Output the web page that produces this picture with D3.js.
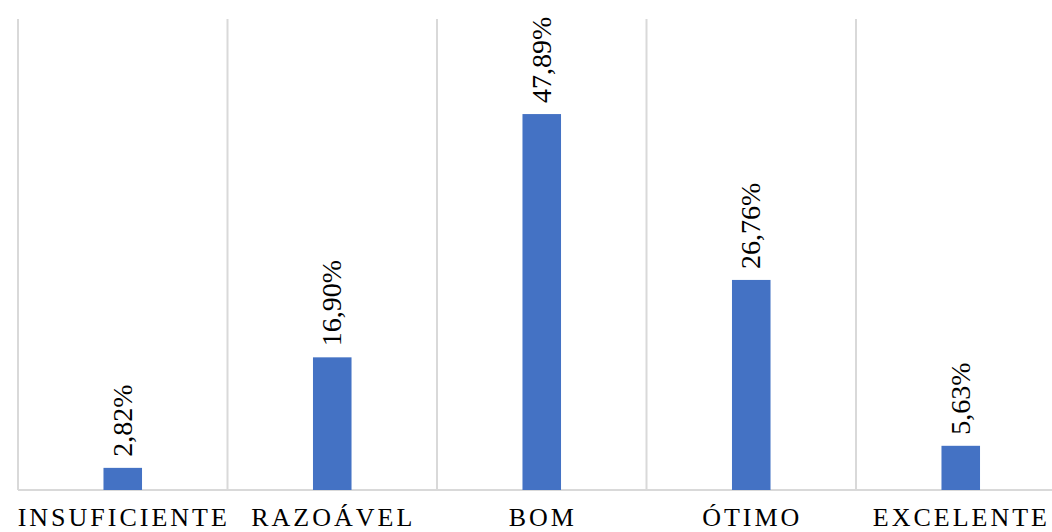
<!DOCTYPE html>
<html>
<head>
<meta charset="utf-8">
<script src="https://cdn.jsdelivr.net/npm/d3@7"></script>
<style>
  body { margin: 0; background: #fff; }
  svg { display: block; }
</style>
</head>
<body>
<div id="chart"></div>
<script>
'use strict'

const categories = ['INSUFICIENTE', 'RAZOÁVEL', 'BOM', 'ÓTIMO', 'EXCELENTE']
const values = [2.82, 16.90, 47.89, 26.76, 5.63]
const valueLabels = ['2,82%', '16,90%', '47,89%', '26,76%', '5,63%']

const width = 1052
const height = 532

const svg = d3.select('#chart')
  .append('svg')
  .attr('width', width)
  .attr('height', height)

const x = d3.scaleBand()
  .domain(categories)
  .range([18, 1065.5])

const y = d3.scaleLinear()
  .domain([0, 60])
  .range([490, 19])

const barW = x.bandwidth() * 0.184

// vertical separators between categories
const seps = categories.map(c => x(c)).concat([x.range()[1]])
svg.selectAll('line.sep')
  .data(seps)
  .enter()
  .append('line')
  .attr('class', 'sep')
  .attr('x1', d => d)
  .attr('x2', d => d)
  .attr('y1', y(60))
  .attr('y2', y(0))
  .attr('stroke', '#d9d9d9')
  .attr('stroke-width', 2)

// baseline
svg.append('line')
  .attr('x1', x.range()[0])
  .attr('x2', x.range()[1])
  .attr('y1', y(0))
  .attr('y2', y(0))
  .attr('stroke', '#d9d9d9')
  .attr('stroke-width', 2)

svg.selectAll('rect.bar')
  .data(values)
  .enter()
  .append('rect')
  .attr('class', 'bar')
  .attr('x', (d, i) => x(categories[i]) + x.bandwidth() / 2 - barW / 2)
  .attr('y', d => y(d))
  .attr('width', barW)
  .attr('height', d => y(0) - y(d))
  .attr('fill', '#4472c4')

// value labels, rotated
svg.selectAll('text.val')
  .data(values)
  .enter()
  .append('text')
  .attr('class', 'val')
  .attr('transform', (d, i) => 'translate(' + (x(categories[i]) + x.bandwidth() / 2 + 9) + ',' + (y(d) - 11) + ') rotate(-90)')
  .style('font-family', "'Liberation Serif', serif")
  .style('font-size', '28px')
  .attr('fill', '#000')
  .text((d, i) => valueLabels[i])

// category labels
svg.selectAll('text.cat')
  .data(categories)
  .enter()
  .append('text')
  .attr('class', 'cat')
  .attr('x', d => x(d) + x.bandwidth() / 2 + 1)
  .attr('y', 526)
  .attr('text-anchor', 'middle')
  .style('font-family', "'Liberation Serif', serif")
  .style('font-size', '26px')
  .style('letter-spacing', '3px')
  .attr('fill', '#000')
  .text(d => d)
  .each(function() {
    const b = this.getBBox()
    const over = b.x + b.width - 1050
    if (over > 0) {
      d3.select(this).attr('x', +d3.select(this).attr('x') - over)
    }
  })
</script>
</body>
</html>
